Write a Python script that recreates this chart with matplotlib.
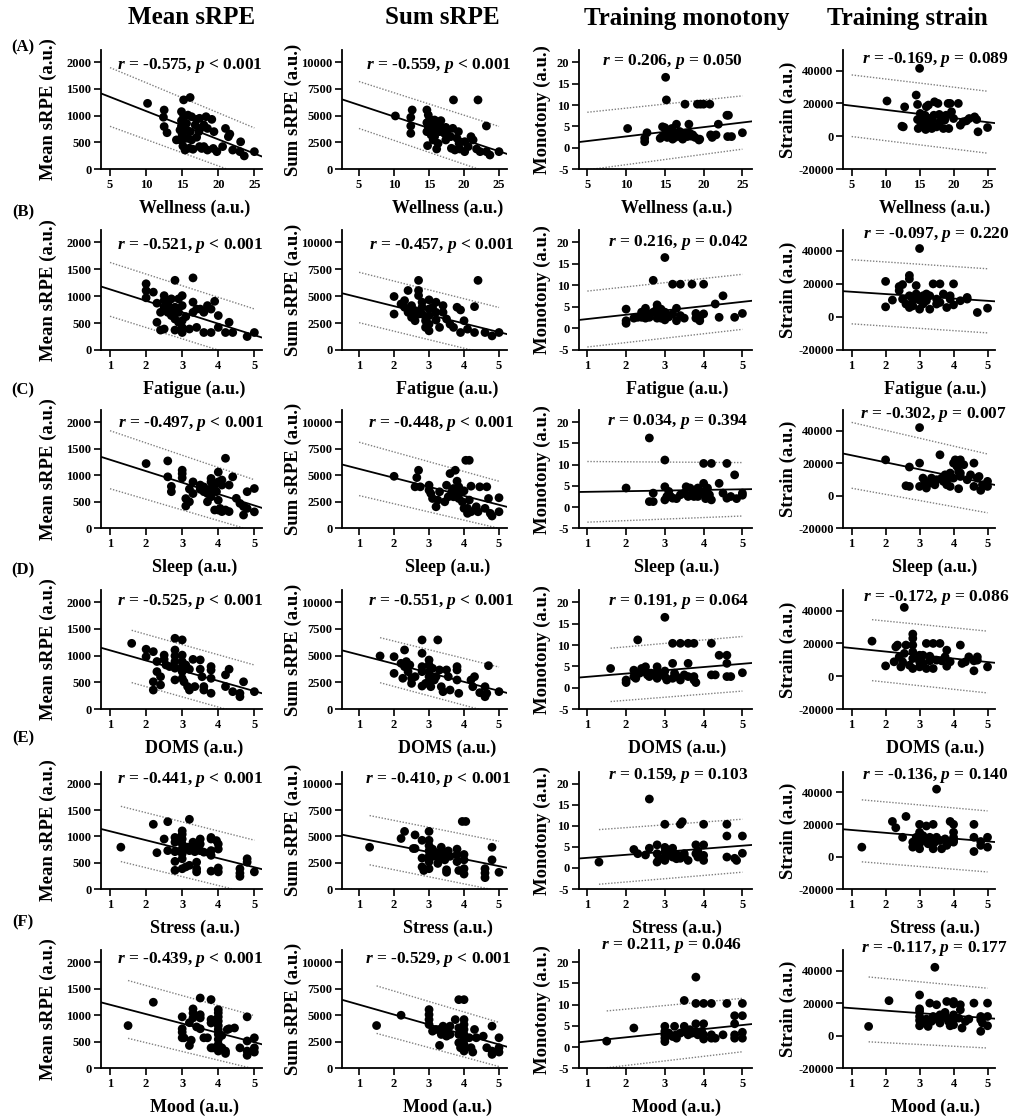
import numpy as np
import matplotlib
matplotlib.use("Agg")
import matplotlib.pyplot as plt

plt.rcParams['font.family'] = ['Liberation Serif', 'DejaVu Serif']
plt.rcParams['font.weight'] = 'bold'
plt.rcParams['mathtext.fontset'] = 'custom'
plt.rcParams['mathtext.it'] = 'Liberation Serif:italic:bold'
plt.rcParams['mathtext.rm'] = 'Liberation Serif:bold'
plt.rcParams['mathtext.bf'] = 'Liberation Serif:bold'
plt.rcParams['axes.unicode_minus'] = False

# ---------------- labels ----------------
col_titles = ['Mean sRPE', 'Sum sRPE', 'Training monotony', 'Training strain']
y_labels = ['Mean sRPE (a.u.)', 'Sum sRPE (a.u.)', 'Monotony (a.u.)', 'Strain (a.u.)']
row_tags = ['(A)', '(B)', '(C)', '(D)', '(E)', '(F)']
x_labels = ['Wellness (a.u.)', 'Fatigue (a.u.)', 'Sleep (a.u.)', 'DOMS (a.u.)', 'Stress (a.u.)', 'Mood (a.u.)']

r_values = [[-0.575, -0.559, 0.206, -0.169],
            [-0.521, -0.457, 0.216, -0.097],
            [-0.497, -0.448, 0.034, -0.302],
            [-0.525, -0.551, 0.191, -0.172],
            [-0.441, -0.410, 0.159, -0.136],
            [-0.439, -0.529, 0.211, -0.117]]
p_texts = [['< 0.001', '< 0.001', '= 0.050', '= 0.089'],
           ['< 0.001', '< 0.001', '= 0.042', '= 0.220'],
           ['< 0.001', '< 0.001', '= 0.394', '= 0.007'],
           ['< 0.001', '< 0.001', '= 0.064', '= 0.086'],
           ['< 0.001', '< 0.001', '= 0.103', '= 0.140'],
           ['< 0.001', '< 0.001', '= 0.046', '= 0.177']]

x_ticks_wellness = [5, 10, 15, 20, 25]
x_ticks_scale = [1, 2, 3, 4, 5]
y_ticks = [[0, 500, 1000, 1500, 2000],
           [0, 2500, 5000, 7500, 10000],
           [-5, 0, 5, 10, 15, 20],
           [-20000, 0, 20000, 40000]]

# ---------------- fitted lines ----------------
# x-range over which the 95% prediction band is drawn, per row
band_x = [(5, 25), (1, 5), (1, 5), (1.6, 5), (1.3, 5), (1.5, 5)]
# regression line value at band start / band end, per panel
fit_start = [[1350, 6000, 1.55, 18600],
             [1127, 4880, 2.2, 15230],
             [1293, 5600, 3.6, 24800],
             [985, 4575, 3.0, 15900],
             [1047, 4640, 2.63, 16000],
             [1110, 5530, 1.83, 16150]]
fit_end = [[290, 1660, 5.9, 8550],
           [276, 1660, 6.2, 9750],
           [430, 2215, 4.2, 7550],
           [335, 1700, 5.6, 8650],
           [413, 2175, 5.3, 9450],
           [490, 2245, 5.2, 10800]]
# half width of the prediction band at band start / band end
half_start = [[550, 2200, 6.75, 18800],
              [500, 2340, 6.5, 19400],
              [547, 2515, 7.15, 20200],
              [490, 2110, 6.25, 18600],
              [525, 2340, 6.5, 19180],
              [545, 2240, 6.7, 19900]]
half_end = [[480, 2330, 6.25, 18900],
            [487, 2290, 6.4, 19400],
            [485, 2220, 6.3, 18050],
            [490, 2230, 6.4, 18850],
            [515, 2360, 6.3, 18890],
            [502, 2080, 6.3, 18350]]

# ---------------- data (x, y) per panel ----------------
wellness_mean = [(10.2,1230),(12.5,1105),(12.4,970),(12.5,795),(12.9,680),(15.2,1295),(16.1,1340),(14.9,1075),(15.2,995),(14.9,905),(14.9,805),(14.7,730),(15.0,640),(14.7,545),(15.1,430),(15.6,855),(15.8,1010),(16.3,980),(15.6,730),(16.1,700),(15.7,575),(16.3,545),(16.0,390),(16.5,370),(16.8,825),(17.0,930),(17.4,950),(17.5,760),(17.3,700),(17.0,595),(17.4,420),(17.7,385),(18.0,825),(18.3,980),(18.5,760),(18.0,420),(18.5,355),(19.1,930),(19.4,700),(19.3,385),(19.8,325),(20.6,420),(21.0,760),(21.4,605),(21.6,655),(22.0,355),(23.1,510),(23.0,325),(23.6,245),(25.0,325),(15.0,545),(15.4,355),(14.2,545)]
wellness_sum = [(10.2,4970),(12.4,4840),(12.6,5530),(12.4,4030),(12.4,3340),(14.7,5530),(14.9,5060),(14.7,4340),(14.9,3970),(14.7,3500),(14.8,2190),(15.1,4660),(15.4,4220),(15.5,3660),(15.3,3190),(15.6,2720),(15.8,4590),(16.0,4125),(16.1,3500),(15.8,3030),(16.3,2400),(16.5,3970),(16.7,4530),(16.5,3500),(16.1,1875),(17.2,3340),(17.4,3900),(17.6,3500),(17.4,2720),(18.5,6470),(18.1,3030),(18.2,1940),(18.4,3810),(19.2,3500),(19.0,2880),(19.3,2400),(18.7,1780),(19.4,1875),(20.1,2560),(20.1,1625),(20.6,2100),(22.0,6470),(21.0,3030),(21.3,2720),(21.8,1875),(22.3,1625),(23.2,4030),(23.2,1625),(23.7,1310),(25.0,1625)]
wellness_mono = [(10.2,4.5),(12.4,1.4),(12.4,2.2),(12.7,3.5),(15.1,16.5),(15.2,11.2),(14.7,4.9),(15.0,4.7),(14.4,2.2),(14.7,2.7),(15.1,3.4),(15.3,2.4),(15.6,3.8),(15.9,4.5),(15.6,2.6),(16.1,3.4),(16.3,2.4),(16.5,5.5),(16.7,3.0),(16.9,3.8),(17.1,2.4),(17.4,3.2),(17.6,10.2),(17.9,2.6),(18.1,5.5),(18.2,3.4),(18.6,3.0),(18.9,2.4),(19.2,10.2),(19.6,10.2),(20.0,10.2),(20.8,10.2),(19.4,1.8),(19.5,2.0),(20.9,3.0),(21.1,2.4),(21.6,3.0),(21.9,5.5),(23.0,7.6),(23.2,7.6),(23.1,2.6),(23.6,2.6),(25.0,3.5),(17.8,3.4),(17.3,2.0),(16.0,2.0),(18.4,2.7)]
wellness_strain = [(10.2,21500),(12.4,6100),(12.6,5700),(12.8,17900),(15.0,41400),(14.5,25100),(14.7,19400),(14.8,4700),(15.1,13900),(15.3,11800),(15.0,9800),(15.6,8800),(15.2,6700),(15.8,12800),(16.0,18000),(16.3,19000),(16.4,10800),(16.6,7300),(16.9,9800),(17.1,12800),(17.2,21000),(17.7,20000),(17.5,5700),(18.0,8800),(18.2,11800),(18.5,4700),(18.7,9800),(18.9,12800),(19.2,20000),(19.5,20000),(19.3,4700),(19.7,14900),(20.0,10800),(20.7,20000),(21.0,6700),(21.4,8800),(21.9,9400),(22.3,10800),(23.1,11800),(23.4,10200),(23.6,2700),(25.0,5300),(15.5,5700),(15.9,4100),(14.7,10200),(16.8,4700),(17.9,13300)]

fatigue_mean = [(2.0,1230),(2.0,1105),(2.0,970),(2.2,1075),(2.3,870),(2.3,515),(2.4,370),(2.4,700),(2.5,1010),(2.5,920),(2.5,795),(2.6,700),(2.6,855),(2.7,730),(2.7,640),(2.7,950),(2.8,1295),(2.8,795),(2.8,575),(2.8,370),(2.9,950),(2.9,700),(2.9,515),(3.0,1010),(3.0,825),(3.0,545),(3.0,420),(3.0,325),(3.2,390),(3.3,1340),(3.3,890),(3.3,700),(3.4,760),(3.4,420),(3.5,760),(3.6,325),(3.7,825),(3.8,760),(3.8,325),(3.9,905),(4.0,420),(4.0,640),(4.2,325),(4.3,515),(4.4,325),(4.8,250),(5.0,325),(2.5,390),(3.1,620),(3.6,700)]
fatigue_sum = [(2.0,4970),(2.0,3340),(2.2,4280),(2.3,3970),(2.3,4590),(2.4,5530),(2.4,3500),(2.5,3030),(2.5,4125),(2.6,3660),(2.6,2720),(2.7,6470),(2.7,5060),(2.7,5530),(2.8,3970),(2.8,3340),(2.8,4440),(2.9,2720),(2.9,2100),(3.0,4660),(3.0,3810),(3.0,3190),(3.0,2400),(3.0,1780),(3.2,3500),(3.2,2780),(3.2,4440),(3.3,2100),(3.4,4125),(3.4,3500),(3.5,2880),(3.6,2400),(3.7,2100),(3.8,3970),(3.9,3720),(3.9,1625),(4.4,6470),(4.0,2720),(4.1,1940),(4.3,4030),(4.3,1625),(4.6,1625),(4.8,1310),(5.0,1625),(3.1,3970),(2.7,3340)]
fatigue_mono = [(2.0,4.5),(2.0,1.8),(2.0,1.2),(2.2,2.4),(2.3,2.6),(2.4,3.8),(2.4,2.6),(2.5,4.7),(2.5,2.4),(2.6,3.4),(2.6,2.6),(2.7,3.8),(2.8,2.4),(2.8,4.7),(3.0,16.5),(2.7,11.2),(2.8,5.5),(2.8,3.4),(2.9,2.4),(2.9,4.5),(3.0,3.0),(3.0,3.8),(3.0,2.0),(3.2,10.3),(3.2,3.4),(3.3,4.7),(3.3,1.8),(3.4,10.3),(3.4,3.0),(3.5,2.4),(3.7,10.3),(3.8,2.4),(3.8,3.5),(3.9,1.8),(4.0,10.3),(3.9,2.6),(4.0,3.4),(4.3,5.7),(4.4,2.6),(4.5,7.6),(4.8,2.6),(5.0,3.5),(2.9,3.8),(3.1,2.7)]
fatigue_strain = [(2.0,21500),(2.0,6100),(2.2,10200),(2.4,15900),(2.4,18400),(2.5,19600),(2.5,10800),(2.6,7800),(2.7,23000),(2.7,25100),(2.7,12800),(2.7,5700),(2.8,9800),(2.8,6700),(2.9,13900),(2.9,19000),(3.0,41400),(3.0,10200),(3.0,4700),(3.1,7800),(3.2,9800),(3.2,13900),(3.3,4700),(3.3,12800),(3.4,20000),(3.5,7800),(3.5,10800),(3.6,8800),(3.6,20000),(3.7,13900),(3.8,5700),(3.9,10800),(3.9,12800),(4.0,20000),(4.0,7300),(4.2,9800),(4.4,10800),(4.4,11800),(4.7,2700),(5.0,5300),(3.1,12800)]

sleep_mean = [(2.0,1220),(2.6,1270),(2.6,970),(2.7,790),(2.7,690),(3.0,1095),(3.0,1030),(3.0,950),(3.1,560),(3.1,420),(3.2,500),(3.2,740),(3.3,655),(3.3,875),(3.5,815),(3.5,735),(3.6,690),(3.6,780),(3.7,500),(3.7,655),(3.8,940),(3.8,875),(3.8,750),(3.8,595),(3.9,815),(3.9,345),(3.95,690),(4.0,875),(4.0,1060),(4.0,530),(4.0,345),(4.05,375),(4.1,910),(4.1,815),(4.1,315),(4.2,1320),(4.2,345),(4.3,315),(4.4,970),(4.5,565),(4.6,470),(4.7,410),(4.7,250),(4.8,690),(4.8,375),(5.0,750),(5.0,310),(4.3,815)]
sleep_sum = [(2.0,4900),(2.65,4780),(2.7,5470),(2.6,3910),(2.75,3910),(3.0,4060),(3.0,3590),(3.05,3280),(3.2,2030),(3.25,2660),(3.3,3440),(3.5,4060),(3.55,2970),(3.6,5160),(3.65,3440),(3.7,3750),(3.7,2970),(3.75,5470),(3.8,4440),(3.8,3280),(3.85,3910),(3.85,2810),(3.9,3440),(3.95,2500),(4.0,3530),(4.05,6410),(4.15,6410),(4.0,1880),(4.1,1410),(4.1,1880),(4.15,2660),(4.2,3970),(4.2,1560),(4.35,2030),(4.45,3910),(4.4,1560),(4.6,1880),(4.65,3910),(4.7,2810),(4.75,1410),(4.8,1160),(5.0,2880),(5.0,1560),(3.45,2500),(3.1,2810)]
sleep_mono = [(2.0,4.5),(2.6,16.3),(2.6,1.3),(2.7,1.3),(2.7,3.3),(3.0,11.1),(3.0,4.8),(3.0,1.7),(3.1,3.7),(3.15,2.5),(3.2,2.1),(3.3,2.0),(3.4,2.9),(3.5,3.3),(3.55,4.8),(3.6,2.5),(3.7,3.0),(3.75,2.5),(3.8,3.7),(3.85,2.5),(3.9,3.3),(4.0,10.3),(4.0,5.6),(4.0,3.7),(4.05,2.0),(4.1,4.5),(4.15,2.9),(4.2,10.3),(4.2,1.7),(4.4,5.6),(4.5,3.3),(4.6,10.3),(4.6,2.1),(4.7,2.5),(4.8,7.6),(4.85,2.0),(5.0,3.3),(5.0,2.8),(3.65,4.5),(3.85,4.5),(3.05,2.5)]
sleep_strain = [(2.0,22000),(2.6,6100),(2.7,5700),(2.7,17600),(3.0,41800),(3.0,20000),(3.0,5700),(3.1,10800),(3.15,8800),(3.2,4700),(3.3,7800),(3.35,10800),(3.45,6700),(3.5,9800),(3.6,25100),(3.65,10800),(3.7,8800),(3.75,12800),(3.8,6700),(3.85,10800),(3.9,13900),(3.9,5700),(4.0,20000),(4.0,10800),(4.05,22000),(4.1,18000),(4.15,14900),(4.2,11800),(4.15,4300),(4.2,22000),(4.3,19000),(4.4,9800),(4.5,12800),(4.6,20000),(4.6,5700),(4.7,10800),(4.75,11800),(4.8,3300),(4.85,6700),(5.0,8800),(5.0,5700),(4.2,13900)]

doms_mean = [(1.6,1230),(2.0,1120),(2.0,980),(2.2,1075),(2.2,510),(2.2,355),(2.3,890),(2.3,700),(2.4,605),(2.4,450),(2.5,1010),(2.5,930),(2.55,825),(2.65,795),(2.8,1325),(2.8,1105),(2.8,995),(2.8,890),(2.8,765),(2.8,545),(3.0,1295),(3.0,1010),(3.0,890),(3.0,795),(3.0,700),(3.0,575),(3.05,510),(3.15,420),(3.2,745),(3.2,355),(3.3,930),(3.35,420),(3.5,920),(3.5,745),(3.55,605),(3.6,420),(3.6,355),(3.8,795),(3.8,730),(3.8,575),(3.8,295),(4.2,640),(4.2,420),(4.3,745),(4.4,325),(4.6,295),(4.6,230),(4.7,510),(5.0,325),(3.1,825)]
doms_sum = [(1.6,4970),(2.0,4900),(2.0,3340),(2.2,4280),(2.25,2880),(2.3,5530),(2.3,3970),(2.35,4440),(2.4,3500),(2.45,4125),(2.5,2880),(2.5,2400),(2.6,3030),(2.8,6470),(2.8,5220),(2.8,3970),(2.8,3500),(2.8,2150),(3.0,4590),(3.0,4125),(3.0,3500),(3.0,3030),(3.0,2470),(3.05,2090),(3.1,3810),(3.15,2720),(3.2,3030),(3.25,6470),(3.3,3660),(3.35,2090),(3.4,1625),(3.5,3660),(3.55,3030),(3.6,1780),(3.8,3970),(3.8,2720),(3.85,1470),(3.8,3660),(4.2,2720),(4.25,2090),(4.3,3030),(4.45,1530),(4.6,2090),(4.6,1150),(4.65,1470),(4.7,4060),(5.0,1625),(2.9,2400)]
doms_mono = [(1.6,4.5),(2.0,1.8),(2.0,1.2),(2.2,4.1),(2.2,2.6),(2.25,2.2),(2.3,11.2),(2.35,3.4),(2.4,4.5),(2.45,3.8),(2.5,4.9),(2.55,3.0),(2.6,3.4),(2.6,2.6),(2.8,4.9),(2.8,3.8),(2.8,2.2),(2.95,3.4),(3.0,16.5),(3.0,2.6),(3.0,3.9),(3.05,1.8),(3.2,10.4),(3.2,5.7),(3.2,2.2),(3.25,3.4),(3.3,2.6),(3.4,10.4),(3.4,1.8),(3.5,3.0),(3.6,10.4),(3.6,5.7),(3.6,2.6),(3.75,10.4),(3.75,2.6),(3.75,1.8),(3.8,1.2),(4.2,10.4),(4.2,3.0),(4.3,3.0),(4.4,7.6),(4.6,7.6),(4.6,5.7),(4.6,2.6),(4.7,2.6),(5.0,3.5),(2.65,3.4)]
doms_strain = [(1.6,21400),(2.0,6300),(2.25,8800),(2.3,17900),(2.35,19000),(2.55,42000),(2.4,11800),(2.45,5700),(2.5,8800),(2.55,13900),(2.6,19000),(2.7,6700),(2.8,25700),(2.8,23100),(2.8,19000),(2.8,14900),(2.8,10800),(2.8,4700),(3.0,12800),(3.0,8800),(3.0,5700),(3.05,10800),(3.1,7800),(3.2,20000),(3.2,4700),(3.3,12200),(3.3,9400),(3.4,20000),(3.4,4700),(3.5,9800),(3.6,20000),(3.65,9400),(3.75,11800),(3.8,15900),(3.8,6100),(4.2,19000),(4.25,7800),(4.35,8800),(4.45,11800),(4.6,9400),(4.6,3300),(4.7,11800),(4.7,9800),(5.0,5700),(3.1,12800),(3.9,8800)]

stress_mean = [(1.3,795),(2.2,1230),(2.3,690),(2.5,950),(2.6,1280),(2.6,730),(2.8,980),(2.8,890),(2.8,710),(2.8,525),(2.8,355),(3.0,1105),(3.0,1040),(3.0,950),(3.0,855),(3.0,760),(3.0,670),(3.0,575),(3.0,385),(3.1,420),(3.2,730),(3.2,1325),(3.2,450),(3.3,795),(3.3,890),(3.35,710),(3.4,795),(3.4,510),(3.4,385),(3.4,325),(3.5,950),(3.5,855),(3.5,730),(3.6,700),(3.8,980),(3.8,950),(3.8,730),(3.8,640),(3.8,340),(3.95,920),(4.0,855),(4.0,760),(4.0,400),(4.0,325),(4.6,385),(4.6,300),(4.6,240),(4.8,575),(4.8,510),(5.0,325),(3.15,795)]
stress_sum = [(1.3,3970),(2.2,4800),(2.3,5475),(2.55,3850),(2.6,3850),(2.6,5140),(2.8,4630),(2.8,2940),(2.8,2100),(2.85,1760),(3.0,5475),(3.0,4630),(3.0,4120),(3.0,3620),(3.0,3110),(3.0,2600),(3.0,1930),(3.1,3790),(3.15,3110),(3.2,3450),(3.25,2430),(3.3,2940),(3.35,3970),(3.4,3450),(3.45,2770),(3.5,1830),(3.5,1590),(3.55,3620),(3.6,3110),(3.8,3790),(3.8,3280),(3.8,2600),(3.85,1760),(3.95,6420),(4.05,6420),(4.0,3280),(4.0,2770),(4.0,1930),(4.0,1420),(4.6,1930),(4.6,1520),(4.6,1080),(4.8,3970),(4.8,2770),(5.0,1590)]
stress_mono = [(1.3,1.4),(2.6,16.4),(2.2,4.4),(2.3,3.4),(2.5,3.1),(2.6,4.7),(2.8,5.5),(2.8,3.4),(2.85,2.2),(2.8,1.4),(3.0,10.4),(3.0,4.9),(3.0,3.75),(3.0,2.6),(3.0,1.8),(3.05,3.1),(3.15,3.9),(3.2,2.6),(3.2,4.7),(3.25,3.4),(3.3,2.2),(3.35,3.0),(3.4,10.4),(3.45,11.0),(3.4,2.3),(3.5,2.8),(3.5,3.4),(3.6,1.8),(3.8,5.5),(3.8,3.4),(3.85,2.6),(3.85,4.1),(4.0,10.4),(4.0,5.5),(4.0,3.0),(4.0,1.8),(4.6,10.4),(4.6,7.6),(4.6,2.6),(4.8,2.3),(4.85,1.8),(5.0,7.6),(5.0,3.5),(3.05,4.4)]
stress_strain = [(1.3,5900),(2.2,21800),(2.3,17900),(2.5,12000),(2.6,24900),(2.8,5900),(2.8,9000),(2.9,12000),(3.0,20000),(3.0,15100),(3.0,11000),(3.0,8000),(3.0,4900),(3.1,13000),(3.15,10000),(3.2,19000),(3.25,8000),(3.3,12000),(3.35,11000),(3.4,20000),(3.4,4900),(3.45,9000),(3.5,12000),(3.5,41800),(3.6,10000),(3.65,4900),(3.75,11000),(3.8,7000),(3.9,21800),(4.0,20000),(4.0,15100),(4.0,12000),(4.0,9000),(4.0,10000),(4.6,20000),(4.6,12000),(4.6,3200),(4.8,9400),(4.8,7000),(5.0,12000),(5.0,5900),(3.85,9000)]

mood_mean = [(1.5,805),(2.2,1245),(3.0,970),(3.0,745),(3.0,680),(3.0,575),(3.05,575),(3.2,860),(3.2,430),(3.3,1120),(3.3,1040),(3.3,950),(3.25,530),(3.4,780),(3.5,745),(3.5,1325),(3.5,1010),(3.5,950),(3.7,575),(3.8,1295),(3.8,920),(3.8,855),(3.8,385),(3.85,385),(4.0,1105),(4.0,1045),(4.0,970),(4.0,890),(4.0,805),(4.0,730),(4.0,640),(4.0,545),(4.0,450),(4.0,385),(4.0,325),(4.1,385),(4.1,620),(4.2,325),(4.2,280),(4.25,730),(4.3,745),(4.45,760),(4.6,385),(4.8,970),(4.8,515),(4.8,325),(4.8,245),(5.0,575),(5.0,385),(5.0,305),(3.6,575)]
mood_sum = [(1.5,4030),(2.2,5000),(3.0,5530),(3.0,5060),(3.0,4590),(3.0,4125),(3.1,3500),(3.2,3660),(3.3,2160),(3.3,3660),(3.35,3190),(3.4,3970),(3.5,3030),(3.5,3660),(3.6,3970),(3.75,4590),(3.85,6470),(3.85,3810),(3.85,3190),(3.85,2410),(3.9,1940),(4.0,6470),(4.0,4590),(4.0,4125),(4.0,3660),(4.0,3190),(4.0,2720),(4.0,2250),(4.0,1940),(4.0,1625),(4.15,2880),(4.2,1940),(4.25,1530),(4.3,3660),(4.35,2880),(4.55,3030),(4.65,1940),(4.8,3970),(4.8,1625),(4.8,1310),(5.0,2880),(5.0,1940),(5.0,1530),(3.6,3190)]
mood_mono = [(1.5,1.4),(2.2,4.5),(3.0,4.9),(3.0,3.7),(3.0,2.9),(3.0,2.1),(3.0,1.3),(3.1,3.3),(3.2,2.5),(3.25,4.9),(3.3,2.9),(3.3,2.1),(3.4,3.3),(3.5,11.0),(3.5,4.9),(3.5,3.7),(3.7,3.3),(3.8,16.5),(3.8,10.3),(3.8,5.5),(3.8,3.7),(3.85,2.9),(3.95,3.7),(4.0,10.3),(4.0,5.5),(4.0,2.9),(4.0,1.9),(4.2,10.3),(4.2,2.9),(4.2,2.1),(4.3,2.1),(4.5,2.9),(4.6,10.3),(4.8,5.5),(4.8,7.4),(4.8,2.9),(4.8,2.1),(5.0,10.3),(5.0,7.4),(5.0,3.5),(5.0,2.1),(3.65,4.1),(3.6,2.9)]
mood_strain = [(1.5,5700),(2.1,21500),(3.0,25000),(3.0,16500),(3.0,14900),(3.0,11800),(3.0,9400),(3.0,6100),(3.1,7800),(3.2,10200),(3.25,5700),(3.3,20000),(3.35,8800),(3.4,11800),(3.45,42000),(3.5,19000),(3.55,9800),(3.6,7800),(3.7,11800),(3.75,14300),(3.8,21000),(3.8,10800),(3.85,8800),(3.9,6100),(4.0,21000),(4.0,19500),(4.0,12800),(4.0,9800),(4.0,6700),(4.15,10800),(4.2,19000),(4.2,15900),(4.25,4700),(4.35,8800),(4.45,10200),(4.6,20000),(4.8,9800),(4.8,11800),(4.8,2700),(4.85,7800),(5.0,20000),(5.0,11800),(5.0,6100),(3.6,12800)]

panels = [[wellness_mean, wellness_sum, wellness_mono, wellness_strain],
          [fatigue_mean, fatigue_sum, fatigue_mono, fatigue_strain],
          [sleep_mean, sleep_sum, sleep_mono, sleep_strain],
          [doms_mean, doms_sum, doms_mono, doms_strain],
          [stress_mean, stress_sum, stress_mono, stress_strain],
          [mood_mean, mood_sum, mood_mono, mood_strain]]

# ---------------- layout (pixels) ----------------
W, H = 1031, 1116
col_lr = [(101, 262.3), (342.3, 506.7), (579, 751.7), (843.3, 995)]
row_tb = [(50, 169), (230, 350), (410, 528.3), (590, 709), (771.7, 889), (950, 1068.3)]
xlim_scale = [(0.75, 5.22), (0.52, 5.22), (0.785, 5.24), (0.755, 5.22)]
xlim_well = [(3.75, 26.1), (2.62, 26.1), (3.93, 26.2), (3.77, 26.1)]
ylims = [(0, 2230), (0, 11150), (-5, 22.9), (-20000, 52600)]
ylab_off = [53, 49, 37, 55]
xlab_frac = [0.58, 0.64, 0.566, 0.605]
ann_x = [[1.006, 1.03, 0.951, 1.088],
         [1.006, 1.05, 0.984, 1.095],
         [1.015, 1.05, 0.98, 1.08],
         [1.006, 1.05, 0.985, 1.095],
         [1.006, 1.03, 0.98, 1.09],
         [1.006, 1.03, 0.944, 1.085]]
ann_y = [[0.866, 0.866, 0.90, 0.916],
         [0.87, 0.87, 0.90, 0.96],
         [0.89, 0.89, 0.90, 0.96],
         [0.90, 0.90, 0.90, 0.94],
         [0.936, 0.936, 0.97, 0.97],
         [0.92, 0.92, 1.04, 1.01]]
title_x = [192, 442, 687, 907]
tag_y = [47, 212, 390, 570, 738, 922]

fig = plt.figure(figsize=(W / 100, H / 100), dpi=100)

for c, t in enumerate(col_titles):
    fig.text(title_x[c] / W, 1 - 18 / H, t, ha='center', va='center', fontsize=18, fontweight='bold')

for r in range(6):
    top, bot = row_tb[r]
    fig.text(23 / W, 1 - tag_y[r] / H, row_tags[r], ha='center', va='center', fontsize=12, fontweight='bold')
    for c in range(4):
        left, right = col_lr[c]
        ax = fig.add_axes([left / W, 1 - bot / H, (right - left) / W, (bot - top) / H])
        pts = np.array(panels[r][c], dtype=float)
        x, y = pts[:, 0], pts[:, 1]
        xl = xlim_well[c] if r == 0 else xlim_scale[c]
        ax.set_xlim(*xl)
        ax.set_ylim(*ylims[c])

        # regression line extended across the axis
        b0, b1 = band_x[r]
        f0, f1 = fit_start[r][c], fit_end[r][c]
        slope = (f1 - f0) / (b1 - b0)
        xx = np.array(xl)
        ax.plot(xx, f0 + slope * (xx - b0), color='black', lw=1.3, zorder=2)
        # 95% prediction band
        xb = np.linspace(b0, b1, 50)
        fit_b = f0 + slope * (xb - b0)
        hw = half_start[r][c] + (half_end[r][c] - half_start[r][c]) * (xb - b0) / (b1 - b0)
        for sign in (1, -1):
            ax.plot(xb, fit_b + sign * hw, color='#808080', lw=1.0,
                    linestyle=(0, (1, 1.2)), zorder=1)

        ax.scatter(x, y, s=40, color='black', edgecolors='none', zorder=3)

        for sp in ['top', 'right']:
            ax.spines[sp].set_visible(False)
        for sp in ['left', 'bottom']:
            ax.spines[sp].set_linewidth(1.3)
        ax.set_xticks(x_ticks_wellness if r == 0 else x_ticks_scale)
        ax.set_yticks(y_ticks[c])
        ax.tick_params(direction='out', length=5, width=1.2, labelsize=9, pad=2)
        for lab in ax.get_xticklabels() + ax.get_yticklabels():
            lab.set_fontweight('bold')

        ann = r'$r$ = %.3f, $p$ %s' % (r_values[r][c], p_texts[r][c])
        ax.text(ann_x[r][c], ann_y[r][c], ann, transform=ax.transAxes, ha='right', va='center',
                fontsize=12.5, fontweight='bold', clip_on=False, zorder=5)

        fig.text((left - ylab_off[c]) / W, 1 - ((top + bot) / 2) / H, y_labels[c], rotation=90,
                 ha='center', va='center', fontsize=13.5, fontweight='bold')
        fig.text((left + xlab_frac[c] * (right - left)) / W, 1 - (bot + 39) / H, x_labels[r],
                 ha='center', va='center', fontsize=13, fontweight='bold')

fig.savefig('out.png', dpi=100, facecolor='white')
